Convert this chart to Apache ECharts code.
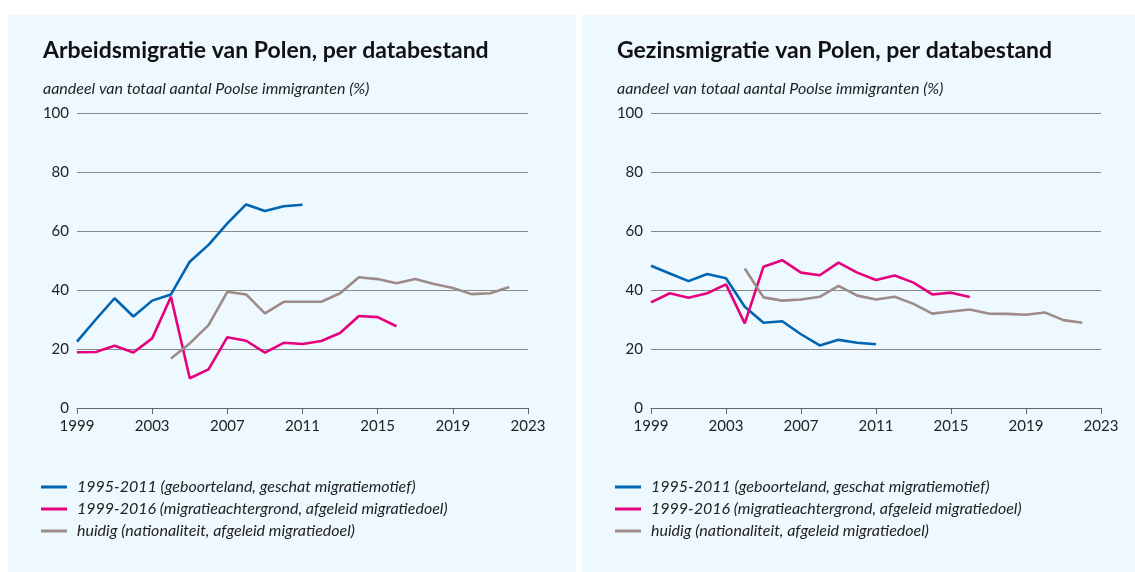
<!DOCTYPE html>
<html>
<head>
<meta charset="utf-8">
<script src="https://cdn.jsdelivr.net/npm/echarts@6/dist/echarts.min.js"></script>
<style>
  html, body { margin: 0; padding: 0; background: #fff; }
  #chart { width: 1135px; height: 572px; }
</style>
</head>
<body>
<div id="chart"></div>
<script>
const years = ['1999','2000','2001','2002','2003','2004','2005','2006','2007','2008','2009','2010','2011',
  '2012','2013','2014','2015','2016','2017','2018','2019','2020','2021','2022','2023'];

const seriesNames = [
  '1995-2011 (geboorteland, geschat migratiemotief)',
  '1999-2016 (migratieachtergrond, afgeleid migratiedoel)',
  'huidig (nationaliteit, afgeleid migratiedoel)'
];

// arbeidsmigratie
const arbeidOud = [22.5, 30, 37.2, 31, 36.4, 38.5, 49.6, 55.3, 62.6, 69, 66.8, 68.4, 68.9];
const arbeidMid = [18.9, 19, 21.1, 18.8, 23.6, 37.7, 10.1, 13.1, 24, 22.8, 18.8, 22.1, 21.7, 22.7, 25.4, 31.2, 30.8, 27.7];
const arbeidHuidig = [null, null, null, null, null, 16.8, 21.9, 28.1, 39.4, 38.5, 32.1, 36, 36, 36, 38.9, 44.3, 43.7, 42.3, 43.7, 42, 40.7, 38.6, 38.9, 41];

// gezinsmigratie
const gezinOud = [48.2, 45.6, 43, 45.4, 44, 34.3, 28.9, 29.4, 25, 21.2, 23.1, 22.1, 21.6];
const gezinMid = [35.8, 38.9, 37.4, 38.9, 41.9, 28.7, 47.9, 50.1, 45.9, 45, 49.3, 45.9, 43.4, 44.9, 42.5, 38.5, 39.1, 37.6];
const gezinHuidig = [null, null, null, null, null, 47.3, 37.5, 36.4, 36.8, 37.7, 41.4, 38.1, 36.8, 37.7, 35.3, 32, 32.7, 33.4, 32, 31.9, 31.6, 32.4, 29.8, 28.9];

const titles = ['Arbeidsmigratie van Polen, per databestand', 'Gezinsmigratie van Polen, per databestand'];
const subtitle = 'aandeel van totaal aantal Poolse immigranten (%)';

const colors = ['#0064b1', '#e5007e', '#9c8b86'];
const font = 'Lato';

const chart = echarts.init(document.getElementById('chart'));

function xAxis(i) {
  return {
    type: 'category', gridIndex: i, data: years, boundaryGap: false,
    axisLine: { lineStyle: { color: '#666', width: 1 } },
    axisTick: { interval: 3, length: 6, lineStyle: { color: '#666' } },
    axisLabel: { interval: 3, color: '#222', fontSize: 15, fontFamily: font, margin: 11 }
  };
}
function yAxis(i) {
  return {
    type: 'value', gridIndex: i, min: 0, max: 100, interval: 20,
    axisLine: { show: false }, axisTick: { show: false },
    axisLabel: { color: '#222', fontSize: 15, fontFamily: font, margin: 8 },
    splitLine: { lineStyle: { color: '#888', width: 1 } }
  };
}
function line(name, data, i, c) {
  return {
    name: name, type: 'line', data: data, xAxisIndex: i, yAxisIndex: i,
    symbol: 'none', color: c, lineStyle: { width: 2.6, color: c },
    connectNulls: false, animation: false
  };
}
function legend(left) {
  return {
    orient: 'vertical', left: left, top: 474, itemWidth: 26, itemHeight: 3, itemGap: 6,
    icon: 'rect', data: seriesNames, selectedMode: false,
    textStyle: { fontSize: 16, fontStyle: 'italic', fontFamily: font, color: '#222', padding: [0, 0, 0, 5] }
  };
}

chart.setOption({
  animation: false,
  graphic: [
    { type: 'rect', shape: { x: 8, y: 15, width: 568, height: 557 }, style: { fill: '#eef8ff' }, z: -10 },
    { type: 'rect', shape: { x: 582, y: 15, width: 553, height: 557 }, style: { fill: '#eef8ff' }, z: -10 }
  ],
  title: [
    { text: titles[0], left: 38, top: 34, textStyle: { fontSize: 23, fontWeight: 'bold', fontFamily: font, color: '#111' } },
    { text: subtitle, left: 38, top: 76, textStyle: { fontSize: 16, fontStyle: 'italic', fontWeight: 'normal', fontFamily: font, color: '#222' } },
    { text: titles[1], left: 612, top: 34, textStyle: { fontSize: 23, fontWeight: 'bold', fontFamily: font, color: '#111' } },
    { text: subtitle, left: 612, top: 76, textStyle: { fontSize: 16, fontStyle: 'italic', fontWeight: 'normal', fontFamily: font, color: '#222' } }
  ],
  legend: [legend(36), legend(610)],
  grid: [
    { left: 77, top: 113, width: 451, height: 295 },
    { left: 651, top: 113, width: 450, height: 295 }
  ],
  xAxis: [xAxis(0), xAxis(1)],
  yAxis: [yAxis(0), yAxis(1)],
  series: [
    line(seriesNames[0], arbeidOud, 0, colors[0]),
    line(seriesNames[1], arbeidMid, 0, colors[1]),
    line(seriesNames[2], arbeidHuidig, 0, colors[2]),
    line(seriesNames[0], gezinOud, 1, colors[0]),
    line(seriesNames[1], gezinMid, 1, colors[1]),
    line(seriesNames[2], gezinHuidig, 1, colors[2])
  ]
});
</script>
</body>
</html>
